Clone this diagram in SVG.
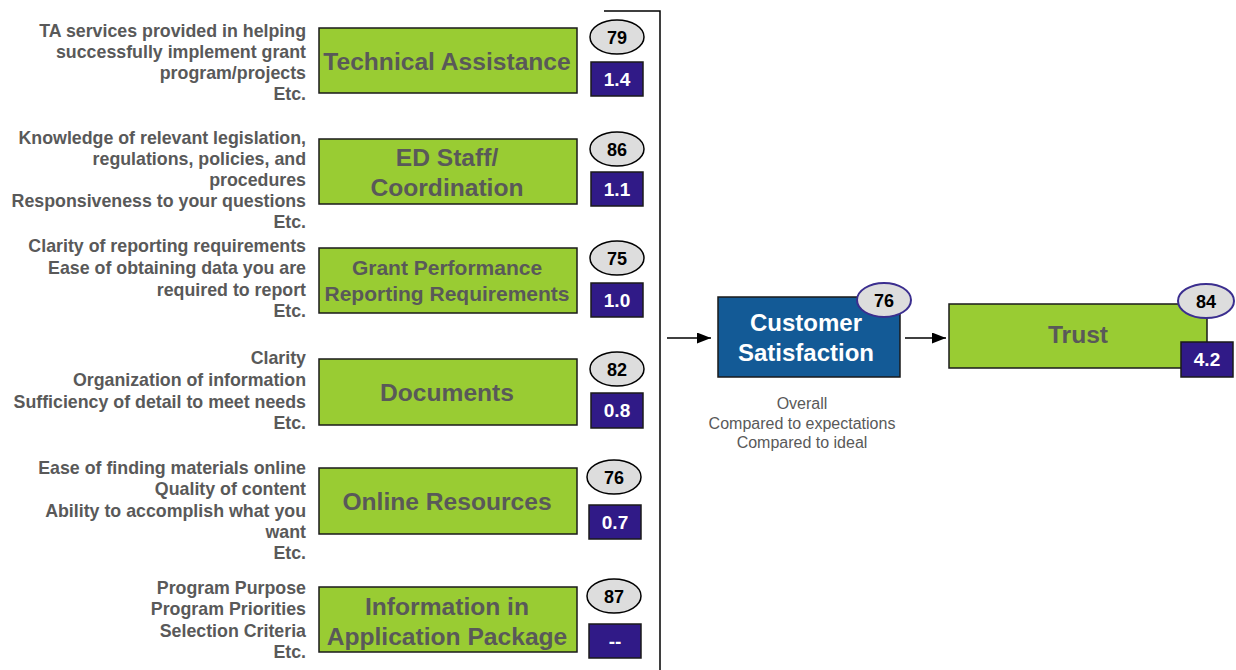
<svg xmlns="http://www.w3.org/2000/svg" width="1236" height="670" viewBox="0 0 1236 670">
<defs>
<marker id="ah" viewBox="0 0 14 11" refX="14" refY="5.5" markerWidth="14" markerHeight="11" markerUnits="userSpaceOnUse" orient="auto"><path d="M0,0 L14,5.5 L0,11 z" fill="#000"/></marker>
</defs>
<style>
.desc{font-family:"Liberation Sans",Arial,sans-serif;font-weight:bold;font-size:17.8px;fill:#595959;text-anchor:end}
.box{fill:#99CC33;stroke:#1a1a1a;stroke-width:1.5}
.lbl{font-family:"Liberation Sans",Arial,sans-serif;font-weight:bold;font-size:24.6px;fill:#595959;text-anchor:middle}
.lbl2{font-family:"Liberation Sans",Arial,sans-serif;font-weight:bold;font-size:21px;fill:#595959;text-anchor:middle}
.cst{font-family:"Liberation Sans",Arial,sans-serif;font-weight:bold;font-size:24px;fill:#fff;text-anchor:middle}
.ell{fill:#DDDDDD;stroke:#000;stroke-width:1.5}
.ellp{fill:#DDDDDD;stroke:#3B2E8F;stroke-width:2}
.num{font-family:"Liberation Sans",Arial,sans-serif;font-weight:bold;font-size:18px;fill:#000;text-anchor:middle}
.val{fill:#301A87;stroke:#1a1a1a;stroke-width:1.5}
.vt{font-family:"Liberation Sans",Arial,sans-serif;font-weight:bold;font-size:19px;fill:#fff;text-anchor:middle}
.con{stroke:#000;stroke-width:1.5;fill:none}
.sub{font-family:"Liberation Sans",Arial,sans-serif;font-size:16px;fill:#595959;text-anchor:middle}
</style>
<rect width="1236" height="670" fill="#fff"/>

<g id="ta">
<text class="desc"><tspan x="306" y="37">TA services provided in helping</tspan><tspan x="306" y="58">successfully implement grant</tspan><tspan x="306" y="79">program/projects</tspan><tspan x="306" y="100">Etc.</tspan></text>
<rect class="box" x="319" y="28" width="258" height="65"/>
<text class="lbl" x="447" y="70">Technical Assistance</text>
<ellipse class="ell" cx="617" cy="37" rx="27" ry="17"/>
<text class="num" x="617" y="44">79</text>
<rect class="val" x="591" y="62" width="52" height="34"/>
<text class="vt" x="617" y="86">1.4</text>
</g>

<g id="ed">
<text class="desc"><tspan x="306" y="144">Knowledge of relevant legislation,</tspan><tspan x="306" y="165">regulations, policies, and</tspan><tspan x="306" y="186">procedures</tspan><tspan x="306" y="207">Responsiveness to your questions</tspan><tspan x="306" y="228">Etc.</tspan></text>
<rect class="box" x="319" y="139" width="258" height="65"/>
<text class="lbl" x="447" y="166">ED Staff/</text>
<text class="lbl" x="447" y="196">Coordination</text>
<ellipse class="ell" cx="617" cy="149" rx="27" ry="17"/>
<text class="num" x="617" y="156">86</text>
<rect class="val" x="591" y="172" width="52" height="34"/>
<text class="vt" x="617" y="196">1.1</text>
</g>

<g id="gprr">
<text class="desc"><tspan x="306" y="252">Clarity of reporting requirements</tspan><tspan x="306" y="274">Ease of obtaining data you are</tspan><tspan x="306" y="296">required to report</tspan><tspan x="306" y="317">Etc.</tspan></text>
<rect class="box" x="319" y="248" width="258" height="65"/>
<text class="lbl2" x="447" y="275">Grant Performance</text>
<text class="lbl2" x="447" y="301">Reporting Requirements</text>
<ellipse class="ell" cx="617" cy="258" rx="27" ry="17"/>
<text class="num" x="617" y="265">75</text>
<rect class="val" x="591" y="283" width="52" height="34"/>
<text class="vt" x="617" y="307">1.0</text>
</g>

<g id="docs">
<text class="desc"><tspan x="306" y="364">Clarity</tspan><tspan x="306" y="386">Organization of information</tspan><tspan x="306" y="408">Sufficiency of detail to meet needs</tspan><tspan x="306" y="429">Etc.</tspan></text>
<rect class="box" x="319" y="359" width="258" height="66"/>
<text class="lbl" x="447" y="401">Documents</text>
<ellipse class="ell" cx="617" cy="369" rx="27" ry="17"/>
<text class="num" x="617" y="376">82</text>
<rect class="val" x="591" y="393" width="52" height="35"/>
<text class="vt" x="617" y="417">0.8</text>
</g>

<g id="online">
<text class="desc"><tspan x="306" y="474">Ease of finding materials online</tspan><tspan x="306" y="495">Quality of content</tspan><tspan x="306" y="517">Ability to accomplish what you</tspan><tspan x="306" y="538">want</tspan><tspan x="306" y="559">Etc.</tspan></text>
<rect class="box" x="319" y="468" width="258" height="66"/>
<text class="lbl" x="447" y="510">Online Resources</text>
<ellipse class="ell" cx="614" cy="477" rx="27" ry="17"/>
<text class="num" x="614" y="484">76</text>
<rect class="val" x="589" y="505" width="52" height="34"/>
<text class="vt" x="615" y="529">0.7</text>
</g>

<g id="info">
<text class="desc"><tspan x="306" y="594">Program Purpose</tspan><tspan x="306" y="615">Program Priorities</tspan><tspan x="306" y="637">Selection Criteria</tspan><tspan x="306" y="658">Etc.</tspan></text>
<rect class="box" x="319" y="587" width="258" height="65"/>
<text class="lbl" x="447" y="615">Information in</text>
<text class="lbl" x="447" y="645">Application Package</text>
<ellipse class="ell" cx="614" cy="596" rx="27" ry="17"/>
<text class="num" x="614" y="603">87</text>
<rect class="val" x="589" y="624" width="52" height="34"/>
<text class="vt" x="615" y="648">--</text>
</g>

<g id="cs">
<rect x="718" y="297" width="182" height="80" fill="#135A96" stroke="#1a1a1a" stroke-width="1.5"/>
<text class="cst" x="806" y="331">Customer</text>
<text class="cst" x="806" y="361">Satisfaction</text>
<ellipse class="ellp" cx="884" cy="300" rx="27" ry="17"/>
<text class="num" x="884" y="307">76</text>
<text class="sub"><tspan x="802" y="409">Overall</tspan><tspan x="802" y="429">Compared to expectations</tspan><tspan x="802" y="448">Compared to ideal</tspan></text>
</g>

<g id="trust">
<rect class="box" x="949" y="304" width="258" height="64"/>
<text class="lbl" x="1078" y="343">Trust</text>
<ellipse class="ellp" cx="1206" cy="301" rx="28" ry="17"/>
<text class="num" x="1206" y="308">84</text>
<rect class="val" x="1181" y="342" width="52" height="35"/>
<text class="vt" x="1207" y="366">4.2</text>
</g>

<g id="connectors">
<polyline class="con" points="604,11 660,11 660,670"/>
<line class="con" x1="667" y1="338" x2="711" y2="338" marker-end="url(#ah)"/>
<line class="con" x1="905" y1="338" x2="946" y2="338" marker-end="url(#ah)"/>
</g>
</svg>
